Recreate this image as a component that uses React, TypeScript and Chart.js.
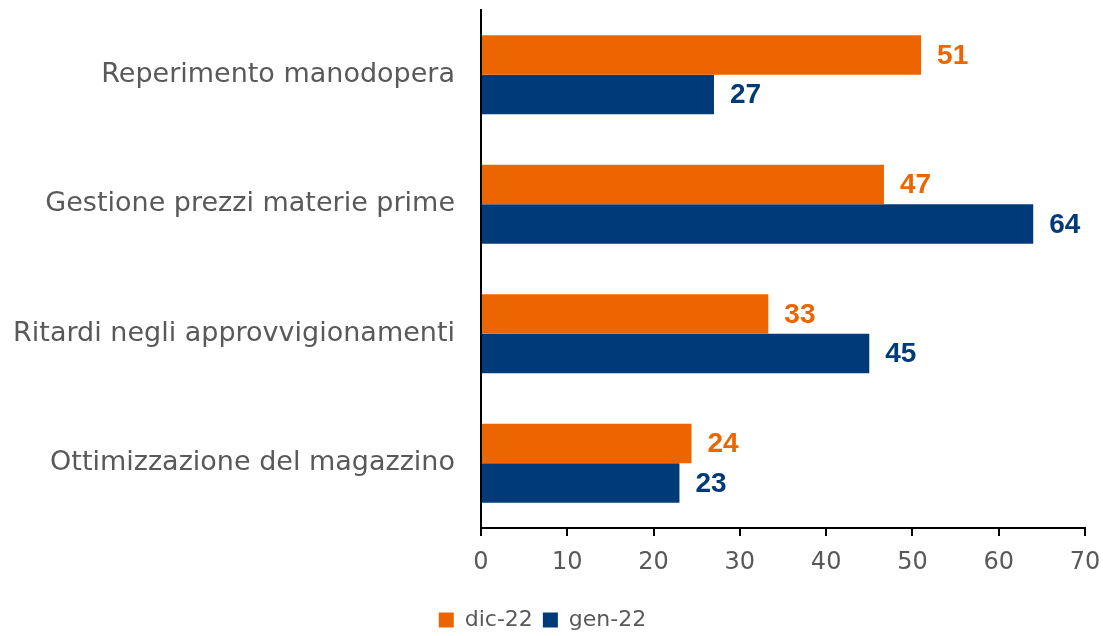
import React, { useEffect, useRef } from "react";
import { Chart, registerables } from "chart.js";

Chart.register(...registerables);

const categories = [
  "Reperimento manodopera",
  "Gestione prezzi materie prime",
  "Ritardi negli approvvigionamenti",
  "Ottimizzazione del magazzino",
];
const seriesNames = ["dic-22", "gen-22"];
const dic22 = [51, 46.7, 33.3, 24.4];
const gen22 = [27, 64, 45, 23];
const xTicksMax = 70;
const colors = ["#EC6500", "#003A78"];

const FONT = "'DejaVu Sans', sans-serif";
const NUM_FONT = "'Liberation Sans Narrow', 'Liberation Sans', sans-serif";

const labelPlugin = {
  id: "valueLabels",
  afterDatasetsDraw(chart: any) {
    const ctx = chart.ctx;
    ctx.save();
    chart.data.datasets.forEach((ds: any, di: number) => {
      const meta = chart.getDatasetMeta(di);
      meta.data.forEach((bar: any, i: number) => {
        const v = ds.data[i];
        ctx.fillStyle = ds.backgroundColor;
        ctx.font = `bold 28px ${NUM_FONT}`;
        ctx.textAlign = "left";
        ctx.textBaseline = "middle";
        ctx.fillText(String(Math.round(v)), bar.x + 16, bar.y + 1);
      });
    });
    ctx.restore();
  },
};

export default function App() {
  const ref = useRef<HTMLCanvasElement>(null);
  useEffect(() => {
    const chart = new Chart(ref.current!, {
      type: "bar",
      data: {
        labels: categories,
        datasets: [
          { label: seriesNames[0], data: dic22, backgroundColor: colors[0] },
          { label: seriesNames[1], data: gen22, backgroundColor: colors[1] },
        ],
      },
      options: {
        indexAxis: "y",
        animation: false,
        responsive: false,
        maintainAspectRatio: false,
        layout: { padding: { top: 10, right: 18, left: 0, bottom: 0 } },
        datasets: {
          bar: { categoryPercentage: 0.61, barPercentage: 1 },
        },
        scales: {
          x: {
            min: 0,
            max: xTicksMax,
            ticks: {
              stepSize: 10,
              color: "#595959",
              font: { family: FONT, size: 24 },
              padding: 12,
            },
            grid: {
              drawOnChartArea: false,
              drawTicks: true,
              tickLength: 8,
              color: "#000",
              lineWidth: 2,
            },
            border: { display: true, color: "#000", width: 2 },
            afterFit: (s: any) => {
              s.height = 71;
              s.paddingRight = 0;
              s.paddingLeft = 0;
            },
          },
          y: {
            ticks: {
              color: "#595959",
              font: { family: FONT, size: 27 },
              padding: 26,
            },
            grid: { display: false, drawTicks: false },
            border: { display: true, color: "#000", width: 2 },
            afterFit: (s: any) => {
              s.width = 481;
              s.paddingTop = 0;
              s.paddingBottom = 0;
            },
          },
        },
        plugins: {
          legend: {
            position: "bottom",
            labels: {
              color: "#595959",
              font: { family: FONT, size: 22 },
              boxWidth: 15,
              boxHeight: 15,
              padding: 10,
            },
          },
          tooltip: { enabled: false },
        },
      },
      plugins: [labelPlugin],
    });
    return () => chart.destroy();
  }, []);
  return (
    <div style={{ position: "fixed", left: 0, top: 0, width: 1103, height: 636, overflow: "hidden", background: "#fff" }}>
      <canvas ref={ref} width={1103} height={641} />
    </div>
  );
}
